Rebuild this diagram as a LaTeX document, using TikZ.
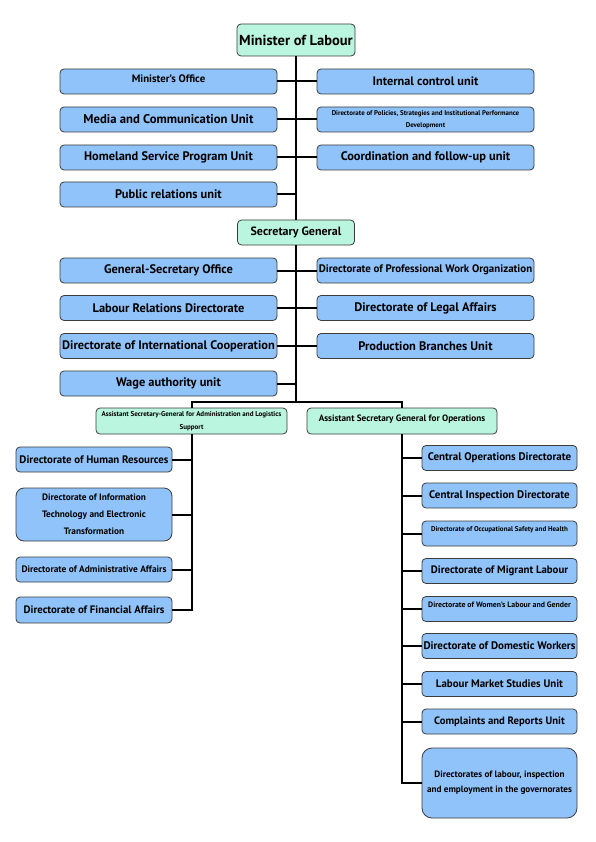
\documentclass[tikz,border=0pt]{standalone}
\usepackage{fontspec}
\setmainfont{PT Sans}
\definecolor{unitblue}{RGB}{144,195,250}
\definecolor{headmint}{RGB}{186,245,223}
\definecolor{boxline}{RGB}{60,60,60}
\newcommand\fsz[2]{\fontsize{#1}{#2}\selectfont\bfseries}
\tikzset{
  unit/.style={draw=boxline, fill=unitblue, rounded corners=4pt, line width=0.8pt,
    inner sep=1pt, align=center, font=\fsz{12.4}{14}},
  head/.style={unit, fill=headmint},
  link/.style={line width=2pt, black},
}

\begin{document}
\begin{tikzpicture}[x=1pt, y=-1pt]

\useasboundingbox (0,0) rectangle (595,842);

\node[head, minimum width=118, minimum height=32, font=\fsz{14.5}{16}] (min) at (296,40) {Minister of Labour};

\node[unit, minimum width=217, minimum height=25, font=\fsz{10.8}{12}] (mo) at (168.5,81.5) {\raisebox{5pt}{Minister's Office}};
\node[unit, minimum width=217, minimum height=25, font=\fsz{12.7}{14}] (mcu) at (168.5,119.5) {Media and Communication Unit};
\node[unit, minimum width=217, minimum height=25] (hsp) at (168.5,157.5) {Homeland Service Program Unit};
\node[unit, minimum width=217, minimum height=25] (pru) at (168.5,194.5) {Public relations unit};
\node[unit, minimum width=217, minimum height=25, font=\fsz{12.3}{14}] (icu) at (425.5,81.5) {Internal control unit};
\node[unit, minimum width=217, minimum height=25, font=\fsz{6.9}{12.5}] (psi) at (425.5,119.5) {Directorate of Policies, Strategies and Institutional Performance\\Development};
\node[unit, minimum width=217, minimum height=25] (cfu) at (425.5,157.5) {Coordination and follow-up unit};

\node[head, minimum width=117, minimum height=25, font=\fsz{12}{14}] (sg) at (296,232.5) {Secretary General};

\node[unit, minimum width=217, minimum height=25] (gso) at (168.5,270.5) {General-Secretary Office};
\node[unit, minimum width=217, minimum height=25] (lrd) at (168.5,308) {Labour Relations Directorate};
\node[unit, minimum width=217, minimum height=25] (dic) at (168.5,346) {Directorate of International Cooperation};
\node[unit, minimum width=217, minimum height=25] (wau) at (168.5,383.5) {Wage authority unit};
\node[unit, minimum width=217, minimum height=25, font=\fsz{10.9}{12}] (pwo) at (425.5,270.5) {\raisebox{4pt}{Directorate of Professional Work Organization}};
\node[unit, minimum width=217, minimum height=25] (dla) at (425.5,308) {Directorate of Legal Affairs};
\node[unit, minimum width=217, minimum height=25] (pbu) at (425.5,346) {Production Branches Unit};

\coordinate (j) at (296,402);
\node[head, minimum width=191, minimum height=26, font=\fsz{7}{12.5}] (al) at (191.5,421) {Assistant Secretary-General for Administration and Logistics\\Support};
\node[head, minimum width=190, minimum height=26, font=\fsz{9.2}{11}] (ops) at (402,421) {\raisebox{6pt}{Assistant Secretary General for Operations}};

\node[unit, minimum width=156, minimum height=25, font=\fsz{10.9}{13}] (hr) at (94,459.5) {Directorate of Human Resources};
\node[unit, minimum width=156, minimum height=53, rounded corners=8pt, font=\fsz{9.3}{17}] (it) at (94,514.5) {Directorate of Information\\Technology and Electronic\\Transformation};
\node[unit, minimum width=156, minimum height=25, font=\fsz{9.4}{11}] (daa) at (94,569.5) {Directorate of Administrative Affairs};
\node[unit, minimum width=156, minimum height=26, font=\fsz{10.8}{13}] (dfa) at (94,610) {Directorate of Financial Affairs};

\node[unit, minimum width=155, minimum height=25, font=\fsz{11}{13}] (cod) at (499.5,458) {Central Operations Directorate};
\node[unit, minimum width=155, minimum height=25, font=\fsz{11}{13}] (cid) at (499.5,495.5) {Central Inspection Directorate};
\node[unit, minimum width=155, minimum height=25, font=\fsz{7}{8}] (osh) at (499.5,533.5) {\raisebox{9pt}{Directorate of Occupational Safety and Health}};
\node[unit, minimum width=155, minimum height=25, font=\fsz{10.8}{13}] (dml) at (499.5,571) {Directorate of Migrant Labour};
\node[unit, minimum width=155, minimum height=25, font=\fsz{7.8}{9}] (wlg) at (499.5,609) {\raisebox{8pt}{Directorate of Women's Labour and Gender}};
\node[unit, minimum width=155, minimum height=25, font=\fsz{11}{13}] (ddw) at (499.5,646) {Directorate of Domestic Workers};
\node[unit, minimum width=155, minimum height=25, font=\fsz{10.9}{13}] (lms) at (499.5,684) {Labour Market Studies Unit};
\node[unit, minimum width=155, minimum height=25, font=\fsz{10.7}{13}] (cru) at (499.5,721.5) {Complaints and Reports Unit};
\node[unit, minimum width=155, minimum height=70, rounded corners=10pt, font=\fsz{9.2}{15}] (dgv) at (499.5,783) {Directorates of labour, inspection\\and employment in the governorates};

\draw[link] (min.south) -- (sg.north);
\draw[link] (sg.south) -- (j);
\draw[link] (mo.east) -- (icu.west);
\draw[link] (mcu.east) -- (psi.west);
\draw[link] (hsp.east) -- (cfu.west);
\draw[link] (pru.east) -- (pru.east -| min.south);
\draw[link] (gso.east) -- (pwo.west);
\draw[link] (lrd.east) -- (dla.west);
\draw[link] (dic.east) -- (pbu.west);
\draw[link] (wau.east) -- (wau.east -| sg.south);
\draw[link] (al.north) -- (al.north |- j) -- (ops.north |- j) -- (ops.north);

\draw[link] (al.south) |- (hr.east);
\draw[link] (al.south) |- (it.east);
\draw[link] (al.south) |- (daa.east);
\draw[link] (al.south) |- (dfa.east);

\draw[link] (ops.south) |- (cod.west);
\draw[link] (ops.south) |- (cid.west);
\draw[link] (ops.south) |- (osh.west);
\draw[link] (ops.south) |- (dml.west);
\draw[link] (ops.south) |- (wlg.west);
\draw[link] (ops.south) |- (ddw.west);
\draw[link] (ops.south) |- (lms.west);
\draw[link] (ops.south) |- (cru.west);
\draw[link] (ops.south) |- (dgv.west);

\end{tikzpicture}
\end{document}
